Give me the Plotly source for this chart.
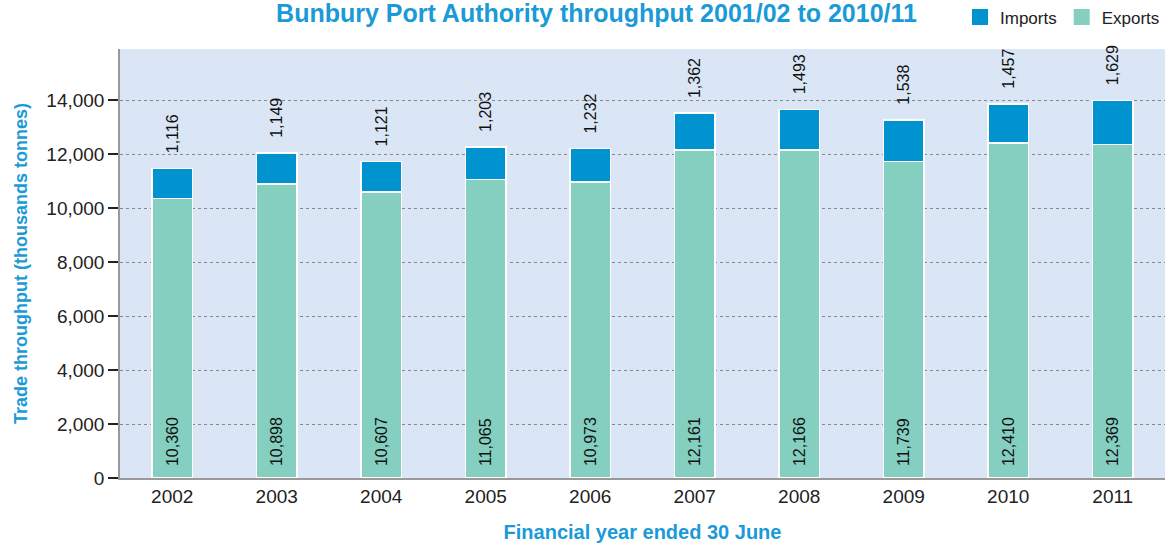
import plotly.graph_objects as go

years = ["2002", "2003", "2004", "2005", "2006", "2007", "2008", "2009", "2010", "2011"]
exports = [10360, 10898, 10607, 11065, 10973, 12161, 12166, 11739, 12410, 12369]
imports = [1116, 1149, 1121, 1203, 1232, 1362, 1493, 1538, 1457, 1629]
y_ticks = [0, 2000, 4000, 6000, 8000, 10000, 12000, 14000]

FONT = "Liberation Sans, Arial, sans-serif"
BLUE = "#1a9ad6"
C_IMP = "#0093d0"
C_EXP = "#84cfc0"
PAD = "\u00a0\u00a0"

fig = go.Figure()
fig.add_trace(go.Bar(
    x=years, y=exports, name="Exports", showlegend=False,
    marker=dict(color=C_EXP, line=dict(color="white", width=1.5)),
    text=[PAD + f"{v:,}" for v in exports], textposition="inside", insidetextanchor="start",
    textangle=-90, textfont=dict(size=16, color="#111", family=FONT),
    constraintext="none",
))
fig.add_trace(go.Bar(
    x=years, y=imports, name="Imports", showlegend=False,
    marker=dict(color=C_IMP, line=dict(color="white", width=1.5)),
    text=[PAD + "\u2009" + f"{v:,}" for v in imports], textposition="outside",
    textangle=-90, textfont=dict(size=16, color="#111", family=FONT),
    cliponaxis=False, constraintext="none",
))
# legend entries
for rank, (name, col) in enumerate([("Imports", C_IMP), ("Exports", C_EXP)]):
    fig.add_trace(go.Scatter(
        x=[None], y=[None], mode="markers", name=name, legendrank=rank + 1,
        marker=dict(symbol="square", size=16, color=col),
    ))

fig.update_layout(
    barmode="stack",
    bargap=0.61,
    width=1172, height=545,
    margin=dict(l=120, r=7, t=49, b=67, autoexpand=False),
    paper_bgcolor="white",
    plot_bgcolor="#dae6f5",
    font=dict(family=FONT, size=18, color="#222"),
    title=dict(text="<b>Bunbury Port Authority throughput 2001/02 to 2010/11</b>",
               x=0.509, xanchor="center", y=0.992, yref="container", yanchor="top",
               font=dict(size=25, color=BLUE, family=FONT)),
    legend=dict(orientation="h", x=1.0, xref="paper", xanchor="right",
                y=0.968, yref="container", yanchor="middle",
                itemsizing="trace", traceorder="normal",
                font=dict(size=17, color="#222"),
                bgcolor="rgba(0,0,0,0)"),
)

fig.update_xaxes(
    showline=True, linecolor="#999", linewidth=1.5,
    ticks="", tickfont=dict(size=19, color="#222"),
    title=dict(text="<b>Financial year ended 30 June</b>", font=dict(size=20, color=BLUE), standoff=19),
)
fig.update_yaxes(
    range=[0, 15900], tickvals=y_ticks, tickformat=",",
    showline=True, linecolor="#999", linewidth=1.5,
    ticks="outside", ticklen=10, tickcolor="#222", tickwidth=1.5,
    showgrid=True, gridcolor="#888", griddash="dot", gridwidth=1,
    zeroline=False,
    tickfont=dict(size=19, color="#222"),
    title=dict(text="<b>Trade throughput (thousands tonnes)</b>", font=dict(size=18, color=BLUE), standoff=14),
)

fig.write_html("out.html", config={"displayModeBar": False},
               post_script="document.body.style.margin='0';document.body.style.overflow='hidden';")
